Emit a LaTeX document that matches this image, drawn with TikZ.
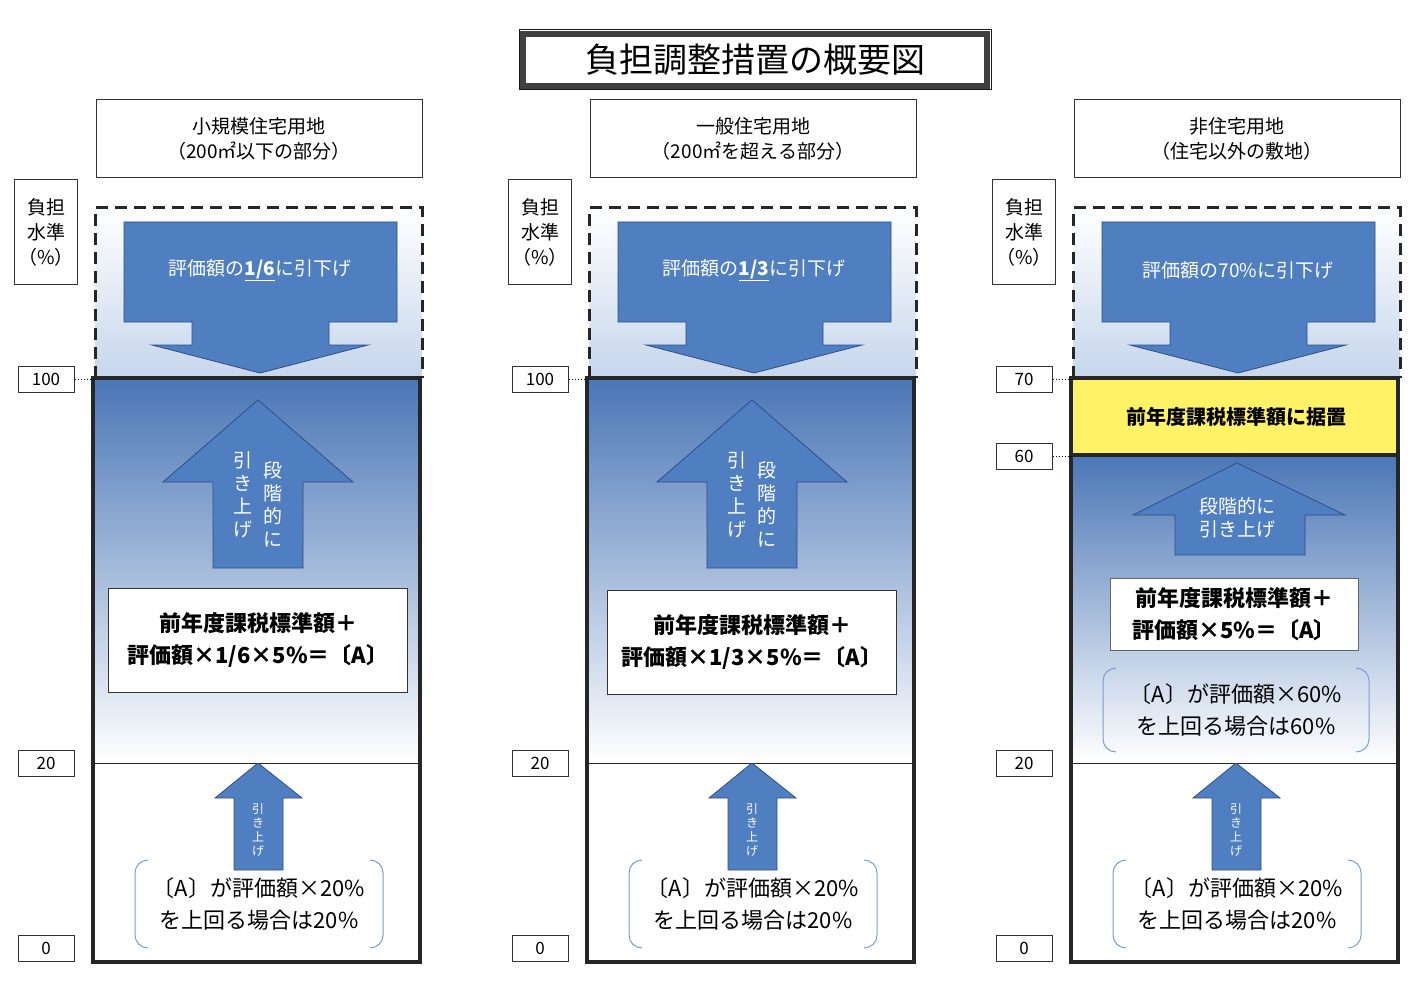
\documentclass[tikz,border=0pt]{standalone}
\usepackage{fontspec}
\setmainfont{Noto Sans CJK JP}
\usetikzlibrary{shapes.geometric}
\definecolor{ab}{HTML}{4F7FC0}
\definecolor{ad}{HTML}{2F4F86}
\definecolor{gb}{HTML}{4A76B6}
\definecolor{lb}{HTML}{C6D6EC}
\definecolor{br}{HTML}{7C9CD0}
\definecolor{yl}{HTML}{FFF266}
\tikzset{
 box/.style={draw=black!80,line width=1pt,fill=white},
 thickbox/.style={draw=black!85,line width=3.5pt},
 arr/.style={fill=ab,draw=ad,line width=0.8pt},
 wt/.style={text=white,font=\fontsize{19}{23}\selectfont,align=center,inner sep=0pt},
 lab/.style={draw=black!80,line width=1pt,fill=white,font=\fontsize{17}{20}\selectfont,inner sep=0pt,minimum height=26pt,minimum width=56pt},
 ft/.style={font=\bfseries\fontsize{22}{32}\selectfont,align=center},
 bt/.style={font=\fontsize{22}{32}\selectfont,align=center},
 brk/.style={draw=br,line width=1pt}
}
\newcommand{\mycol}[4]{%
 \node[box,minimum width=326pt,minimum height=78pt,align=center,font=\fontsize{19}{25}\selectfont] (#1h) at (259,139) {#2};
 \node[box,minimum width=56pt,minimum height=105pt,align=center,font=\fontsize{19}{25}\selectfont] (#1y) at (46,232) {負担\\水準\\（\%）};
 \shade[top color=white,bottom color=lb] (95,208) rectangle (422,378);
 \draw[dashed,line width=3pt,dash pattern=on 12pt off 7pt,black!85] (95,378) -- (95,208) -- (422,208) -- (422,378);
 \draw[arr] (124,222) -- (397,222) -- (397,322) -- (329,322) -- (329,345) -- (368,345) -- (260,373) -- (152,345) -- (192,345) -- (192,322) -- (124,322) -- cycle;
 \node[wt] (#1d) at (260,270) {#4};
 \node[lab] (#1l0) at (46,948) {0};
 \node[lab] (#1l20) at (46,763) {20};
 \draw[thickbox,fill=white] (93,762) rectangle (420,962);
 \draw[arr] (258,763) -- (302,798) -- (283,798) -- (283,870) -- (234,870) -- (234,798) -- (215,798) -- cycle;
 \node[wt,font=\fontsize{12}{14}\selectfont] (#1s) at (258,830) {引\\き\\上\\げ};
 \node[bt] (#1b) at (259,904) {〔A〕が評価額×20\%\\を上回る場合は20\%};
 \draw[brk] (148,860) to[out=180,in=90] (135,873) -- (135,935) to[out=-90,in=180] (148,948);
 \draw[brk] (370,860) to[out=0,in=90] (383,873) -- (383,935) to[out=-90,in=0] (370,948);
}
\begin{document}
\begin{tikzpicture}[x=1pt,y=-1pt]
\useasboundingbox (0,0) rectangle (1424,1000);
\fill[white] (0,0) rectangle (1424,1000);
% title
\draw[line width=6pt,black!75] (523,34) rectangle (987,86);
\draw[line width=1pt,black!90] (519,30) rectangle (991,90);
\node[font=\fontsize{34}{40}\selectfont] (title) at (755,60) {負担調整措置の概要図};
% column 1
\begin{scope}
\mycol{a}{小規模住宅用地\\（200㎡以下の部分）}{}{評価額の\underline{\textbf{1/6}}に引下げ}
\shade[top color=gb,bottom color=white] (93,378) rectangle (420,762);
\draw[thickbox] (93,378) rectangle (420,962);
\node[lab] (al100) at (46,379) {100};
\draw[dotted,line width=1pt] (al100.east) -- (93,379);
\draw[arr] (258,400) -- (353,482) -- (303,482) -- (303,568) -- (213,568) -- (213,482) -- (163,482) -- cycle;
\node[wt] (au1) at (273,504) {段\\階\\的\\に};
\node[wt] (au2) at (243,495) {引\\き\\上\\げ};
\node[box,minimum width=299pt,minimum height=104pt] (af) at (258,640) {};
\node[ft] at (af) {前年度課税標準額＋\\評価額×1/6×5\%＝〔A〕};
\end{scope}
% column 2
\begin{scope}[xshift=494pt]
\mycol{b}{一般住宅用地\\（200㎡を超える部分）}{}{評価額の\underline{\textbf{1/3}}に引下げ}
\shade[top color=gb,bottom color=white] (93,378) rectangle (420,762);
\draw[thickbox] (93,378) rectangle (420,962);
\node[lab] (bl100) at (46,379) {100};
\draw[dotted,line width=1pt] (bl100.east) -- (93,379);
\draw[arr] (258,400) -- (353,482) -- (303,482) -- (303,568) -- (213,568) -- (213,482) -- (163,482) -- cycle;
\node[wt] (bu1) at (273,504) {段\\階\\的\\に};
\node[wt] (bu2) at (243,495) {引\\き\\上\\げ};
\node[box,minimum width=289pt,minimum height=104pt] (bf) at (258,642) {};
\node[ft] at (bf) {前年度課税標準額＋\\評価額×1/3×5\%＝〔A〕};
\end{scope}
% column 3
\begin{scope}[xshift=978pt]
\mycol{c}{非住宅用地\\（住宅以外の敷地）}{}{評価額の70\%に引下げ}
\fill[yl] (93,380) rectangle (420,455);
\node[font=\bfseries\fontsize{20}{24}\selectfont] (cy) at (258,417) {前年度課税標準額に据置};
\shade[top color=gb,bottom color=white] (93,455) rectangle (420,762);
\draw[thickbox] (93,378) rectangle (420,962);
\draw[thickbox] (93,455) -- (420,455);
\node[lab] (cl70) at (46,379) {70};
\node[lab] (cl60) at (46,456) {60};
\draw[dotted,line width=1pt] (cl70.east) -- (93,379);
\draw[dotted,line width=1pt] (cl60.east) -- (93,456);
\draw[arr] (259,463) -- (367,515) -- (327,515) -- (327,555) -- (197,555) -- (197,515) -- (155,515) -- cycle;
\node[wt] (cu) at (259,518) {段階的に\\引き上げ};
\node[box,draw=black!60,minimum width=248pt,minimum height=72pt] (cf) at (256,614) {};
\node[ft,font=\bfseries\fontsize{22}{32}\selectfont] at (cf) {前年度課税標準額＋\\評価額×5\%＝〔A〕};
\node[bt] (cb2) at (258,710) {〔A〕が評価額×60\%\\を上回る場合は60\%};
\draw[brk] (138,668) to[out=180,in=90] (125,681) -- (125,739) to[out=-90,in=180] (138,752);
\draw[brk] (378,668) to[out=0,in=90] (391,681) -- (391,739) to[out=-90,in=0] (378,752);
\end{scope}
\end{tikzpicture}
\end{document}
